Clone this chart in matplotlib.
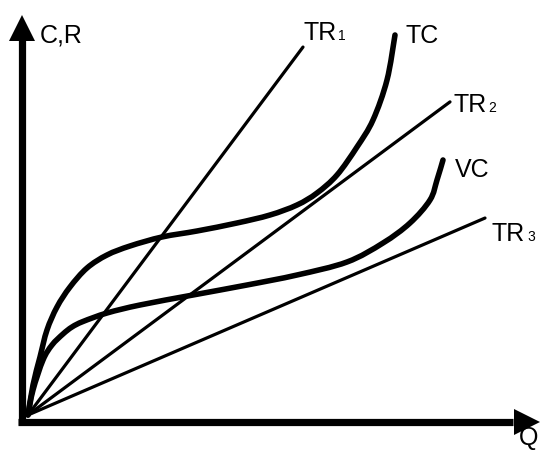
import matplotlib
matplotlib.use("Agg")
import matplotlib.pyplot as plt
from matplotlib.path import Path
from matplotlib.patches import PathPatch
import numpy as np

plt.rcParams['font.family'] = ['Liberation Sans', 'DejaVu Sans']

# Output quantity Q and cost C for the total-cost curve
tc_q = [0, 0.5, 1.2, 1.9, 2.9, 4.2, 5.9, 7.9, 10.2, 13.4, 16.9, 20.9,
        24.2, 26.9, 28.9, 30.9, 32.9, 34.5, 35.9, 36.7]
tc_c = [0, 3.0, 5.8, 8.5, 10.8, 12.8, 14.7, 16.0, 16.9, 17.8, 18.4, 19.2,
        20.0, 21.0, 22.2, 24.0, 26.8, 29.5, 33.5, 38.0]

# Variable-cost curve
vc_q = [0, 0.5, 1.5, 2.4, 3.5, 4.4, 5.5, 7.9, 11.2, 16.5, 21.9, 26.9, 31.9,
        35.5, 38.2, 40.2, 40.9, 41.5]
vc_c = [0, 2.5, 5.5, 7.0, 8.1, 8.8, 9.35, 10.2, 11.0, 12.0, 13.0, 14.0,
        15.3, 17.2, 19.2, 21.5, 23.5, 25.5]

# Total-revenue lines: price (slope) and the last quantity drawn
tr_names = ["TR", "TR", "TR"]
tr_subs = ["1", "2", "3"]
tr_price = [1.338, 0.742, 0.431]
tr_q_end = [27.5, 42.2, 45.7]


def smooth_path(xs, ys):
    """Catmull-Rom curve through the points, as cubic Bezier segments."""
    p = np.column_stack([xs, ys]).astype(float)
    n = len(p)
    verts = [p[0]]
    codes = [Path.MOVETO]
    for i in range(n - 1):
        p0 = p[i - 1] if i > 0 else p[i]
        p1, p2 = p[i], p[i + 1]
        p3 = p[i + 2] if i + 2 < n else p[i + 1]
        c1 = p1 + (p2 - p0) / 6.0
        c2 = p2 - (p3 - p1) / 6.0
        verts += [c1, c2, p2]
        codes += [Path.CURVE4] * 3
    return Path(verts, codes)


fig = plt.figure(figsize=(5.40, 4.51), dpi=100)
ax = fig.add_axes([0, 0, 1, 1])
ax.set_xlim(-2.8, 51.2)
ax.set_ylim(-3.6, 41.5)
ax.axis('off')

# axes with arrowheads
ax_x0, ax_y0 = -0.6, -0.65
ax.plot([ax_x0, ax_x0], [ax_y0 - 0.3, 37.5], color='black', lw=5.2,
        solid_capstyle='butt')
ax.plot([ax_x0], [38.75], marker='^', ms=18.5, color='black', mew=0)
ax.plot([-1.0, 48.5], [ax_y0, ax_y0], color='black', lw=5.2,
        solid_capstyle='butt')
ax.plot([49.9], [ax_y0], marker='>', ms=19, color='black', mew=0)

# revenue lines
for p, qe in zip(tr_price, tr_q_end):
    q = np.array([0.0, qe])
    ax.plot(q, p * q, color='black', lw=2.3, solid_capstyle='round')

# cost curves
for xs, ys in [(tc_q, tc_c), (vc_q, vc_c)]:
    ax.add_patch(PathPatch(smooth_path(xs, ys), facecolor='none',
                           edgecolor='black', lw=4.0, capstyle='round',
                           joinstyle='round'))

fs = 18
renderer = fig.canvas.get_renderer()


def label(x, y, main, sub=None):
    t = ax.text(x, y, main, fontsize=fs, ha='left', va='baseline')
    if sub:
        bb = t.get_window_extent(renderer=renderer)
        ax.annotate(sub, xy=(x, y), xycoords='data',
                    xytext=(bb.width * 72 / fig.dpi + 1.5, 0),
                    textcoords='offset points', fontsize=10,
                    ha='left', va='baseline')


label(1.2, 37.2, "C,R")
label(27.5, 37.5, tr_names[0], tr_subs[0])
label(37.7, 37.2, "TC")
label(42.5, 30.3, tr_names[1], tr_subs[1])
label(42.7, 23.8, "VC")
label(46.4, 17.4, tr_names[2], tr_subs[2])
label(49.1, -3.05, "Q", None)

fig.savefig("out.png", dpi=100)
